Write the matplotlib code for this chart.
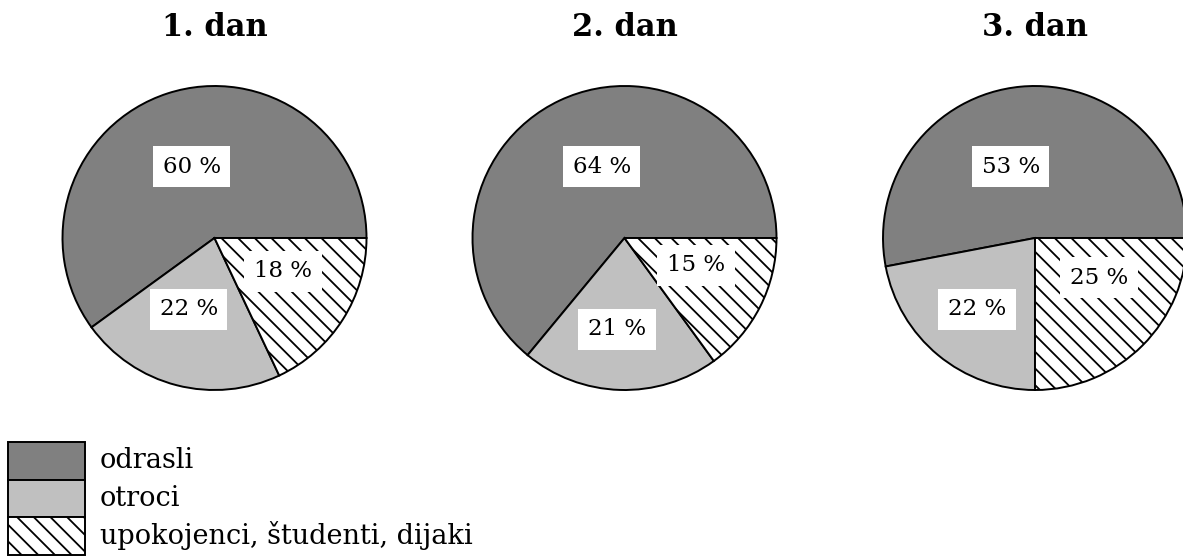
import matplotlib.pyplot as plt

# share of visitors per day (percent)
days = ['1. dan', '2. dan', '3. dan']
groups = ['odrasli', 'otroci', 'upokojenci, študenti, dijaki']
day1 = [60, 22, 18]
day2 = [64, 21, 15]
day3 = [53, 22, 25]
shares = [day1, day2, day3]

colors = ['#808080', '#c0c0c0', 'white']
hatches = ['', '', '\\\\']

# layout in pixel units (y measured from bottom)
W, H = 1183, 556
centers_x = [214.5, 624.5, 1035]
center_y = H - 238
radius = 152
# label offsets from pie centre, in radius units
label_offsets = [
    [(-0.15, 0.47), (-0.17, -0.47), (0.45, -0.22)],
    [(-0.15, 0.47), (-0.05, -0.60), (0.47, -0.18)],
    [(-0.16, 0.47), (-0.38, -0.47), (0.42, -0.26)],
]

plt.rcParams['font.family'] = ['DejaVu Serif']
plt.rcParams['hatch.linewidth'] = 1.3

fig = plt.figure(figsize=(W / 100, H / 100), dpi=100)
ax = fig.add_axes([0, 0, 1, 1])

for i, vals in enumerate(shares):
    cx = centers_x[i]
    wedges, _ = ax.pie(vals, center=(cx, center_y), radius=radius,
                       startangle=0, counterclock=True, colors=colors,
                       wedgeprops=dict(edgecolor='black', linewidth=1.4))
    for w, h in zip(wedges, hatches):
        w.set_hatch(h)
    for v, (dx, dy) in zip(vals, label_offsets[i]):
        ax.text(cx + dx * radius, center_y + dy * radius, f'{v} %',
                ha='center', va='center', fontsize=16.5,
                bbox=dict(facecolor='white', edgecolor='none', pad=7))
    ax.text(cx, H - 27, days[i], ha='center', va='center',
            fontsize=22, fontweight='bold')

# legend built by hand: stacked swatches with labels
sw_x, sw_w, sw_h = 8, 77, 37.5
sw_top = H - 442
for k, name in enumerate(groups):
    y0 = sw_top - (k + 1) * sw_h
    ax.add_patch(plt.Rectangle((sw_x, y0), sw_w, sw_h, facecolor=colors[k],
                               edgecolor='black', linewidth=1.4,
                               hatch=hatches[k], clip_on=False))
    ax.text(sw_x + sw_w + 15, y0 + sw_h / 2, name, ha='left', va='center',
            fontsize=19.5)

ax.set_xlim(0, W)
ax.set_ylim(0, H)
ax.set_aspect('equal')
ax.axis('off')

fig.savefig('out.png', dpi=100)
